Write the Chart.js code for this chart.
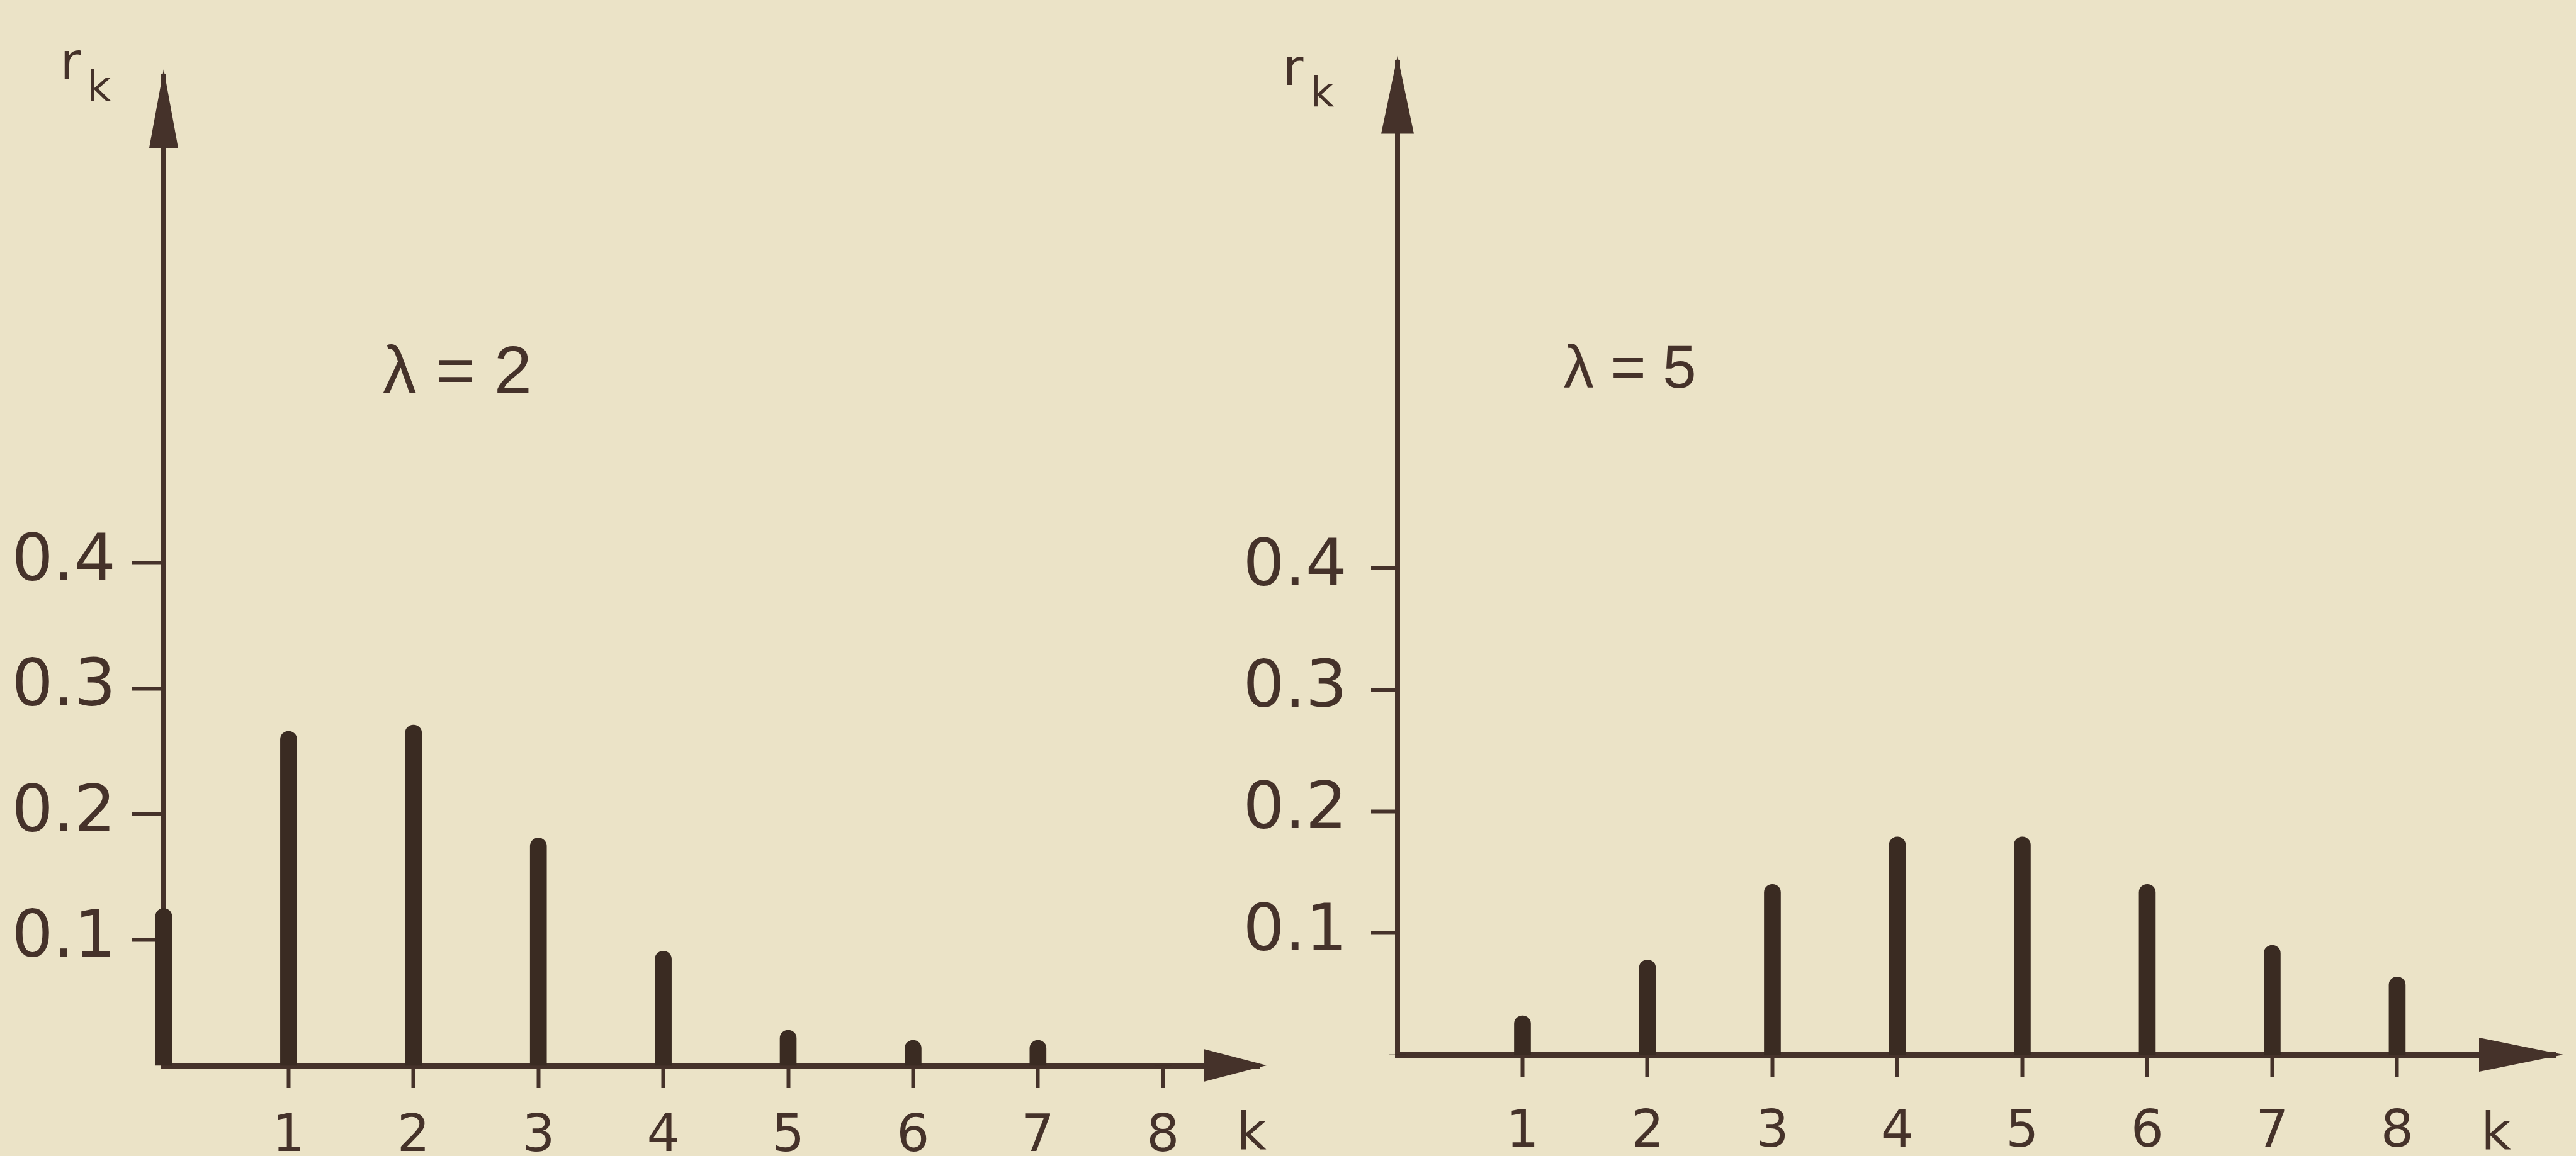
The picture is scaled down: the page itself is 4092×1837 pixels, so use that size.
<!DOCTYPE html>
<html>
<head>
<meta charset="utf-8">
<script src="https://cdn.jsdelivr.net/npm/chart.js@4.4.1/dist/chart.umd.min.js"></script>
<style>
  html, body { margin: 0; padding: 0; background: #ebe3c7; width: 4092px; height: 1837px; overflow: hidden; }
  canvas { position: absolute; top: 0; }
  #chartLeft { left: 0; }
  #chartRight { left: 1960px; }
</style>
</head>
<body>
<canvas id="chartLeft" width="2046" height="1837"></canvas>
<canvas id="chartRight" width="2132" height="1837"></canvas>
<script>
// r_k values
var kValues = [0, 1, 2, 3, 4, 5, 6, 7, 8];
var rLambda2 = [0.125, 0.266, 0.271, 0.181, 0.091, 0.028, 0.020, 0.020, 0];
var rLambda5 = [0, 0.032, 0.078, 0.140, 0.179, 0.179, 0.140, 0.090, 0.064];
var xTickValues = [1, 2, 3, 4, 5, 6, 7, 8];
var yTickValues = [0.1, 0.2, 0.3, 0.4];

var INK = '#45322a';
var BAR = '#3a2b22';
var FONT = '"DejaVu Sans", sans-serif';
var NOTE_FONT = '"Liberation Sans", sans-serif';

// arrow heads, the r_k / k axis names and the lambda note
var decorPlugin = {
  id: 'decor',
  afterDraw: function (chart, args, o) {
    var ctx = chart.ctx;
    var a = chart.chartArea;
    var xs = chart.scales.x, ys = chart.scales.y;
    ctx.save();
    ctx.fillStyle = INK;

    // y arrow
    ctx.beginPath();
    ctx.moveTo(a.left, a.top - 12);
    ctx.lineTo(a.left - o.yHead[1], a.top + o.yHead[0]);
    ctx.lineTo(a.left + o.yHead[1], a.top + o.yHead[0]);
    ctx.closePath();
    ctx.fill();

    // x arrow
    ctx.beginPath();
    ctx.moveTo(a.right + 12, a.bottom);
    ctx.lineTo(a.right - o.xHead[0], a.bottom - o.xHead[1]);
    ctx.lineTo(a.right - o.xHead[0], a.bottom + o.xHead[1]);
    ctx.closePath();
    ctx.fill();

    // r_k
    ctx.textAlign = 'center';
    ctx.textBaseline = 'alphabetic';
    ctx.font = '80px ' + FONT;
    ctx.fillText('r', a.left + o.r[0], a.top + o.r[1]);
    ctx.font = '66px ' + FONT;
    ctx.fillText('k', a.left + o.rk[0], a.top + o.rk[1]);

    // k under the x arrow
    ctx.textBaseline = 'middle';
    ctx.font = '82px ' + FONT;
    ctx.fillText('k', a.right + o.kName[0], a.bottom + o.kName[1]);

    // lambda note
    ctx.font = o.lambdaSize + 'px ' + NOTE_FONT;
    ctx.fillText(o.lambdaText, xs.getPixelForValue(o.lambdaAt[0]), ys.getPixelForValue(o.lambdaAt[1]));
    ctx.restore();
  }
};

function makeChart(id, values, c) {
  var points = kValues.map(function (k, i) { return { x: k, y: values[i] }; });
  return new Chart(document.getElementById(id), {
    type: 'bar',
    data: {
      datasets: [{
        data: points,
        backgroundColor: BAR,
        barThickness: 26,
        borderRadius: { topLeft: 13, topRight: 13, bottomLeft: 0, bottomRight: 0 },
        borderSkipped: 'start',
        clip: false
      }]
    },
    options: {
      responsive: false,
      animation: false,
      devicePixelRatio: 1,
      layout: { padding: c.padding },
      plugins: {
        legend: { display: false },
        tooltip: { enabled: false },
        decor: c.decor
      },
      scales: {
        x: {
          type: 'linear',
          min: 0,
          max: c.xMax,
          offset: false,
          afterBuildTicks: function (s) { s.ticks = xTickValues.map(function (v) { return { value: v }; }); },
          afterFit: function (s) { s.height = c.xHeight; },
          border: { display: true, color: INK, width: 9 },
          grid: { offset: false, drawOnChartArea: false, drawTicks: true, tickLength: 36, tickWidth: 6, tickColor: INK, color: INK },
          ticks: {
            color: INK,
            padding: c.xPad,
            maxRotation: 0,
            font: { family: FONT, size: 82 },
            callback: function (v) { return String(v); }
          }
        },
        y: {
          min: 0,
          max: c.yMax,
          afterBuildTicks: function (s) { s.ticks = yTickValues.map(function (v) { return { value: v }; }); },
          afterFit: function (s) { s.width = c.yWidth; },
          border: { display: true, color: INK, width: 8 },
          grid: { drawOnChartArea: false, drawTicks: true, tickLength: c.yTick, tickWidth: 6, tickColor: INK, color: INK },
          ticks: {
            color: INK,
            padding: c.yPad,
            font: { family: FONT, size: 104 },
            callback: function (v) { return v.toFixed(1); }
          }
        }
      }
    },
    plugins: [decorPlugin]
  });
}

makeChart('chartLeft', rLambda2, {
  padding: { left: 0, top: 122, right: 46, bottom: 0 },
  yWidth: 260, xHeight: 144, yMax: 0.787, xMax: 8.77,
  yTick: 50, yPad: 26, xPad: 30,
  decor: {
    yHead: [113, 23], xHead: [88, 26],
    r: [-148, 3], rk: [-103, 38], kName: [-12, 112],
    lambdaText: 'λ = 2', lambdaSize: 108, lambdaAt: [2.35, 0.55]
  }
});

makeChart('chartRight', rLambda5, {
  padding: { left: 0, top: 63, right: 32, bottom: 0 },
  yWidth: 260, xHeight: 161, yMax: 0.815, xMax: 9.27,
  yTick: 42, yPad: 38, xPad: 40,
  decor: {
    yHead: [112, 26], xHead: [122, 27],
    r: [-166, 35], rk: [-120, 69], kName: [-95, 129],
    lambdaText: 'λ = 5', lambdaSize: 96, lambdaAt: [1.86, 0.562]
  }
});
</script>
</body>
</html>
